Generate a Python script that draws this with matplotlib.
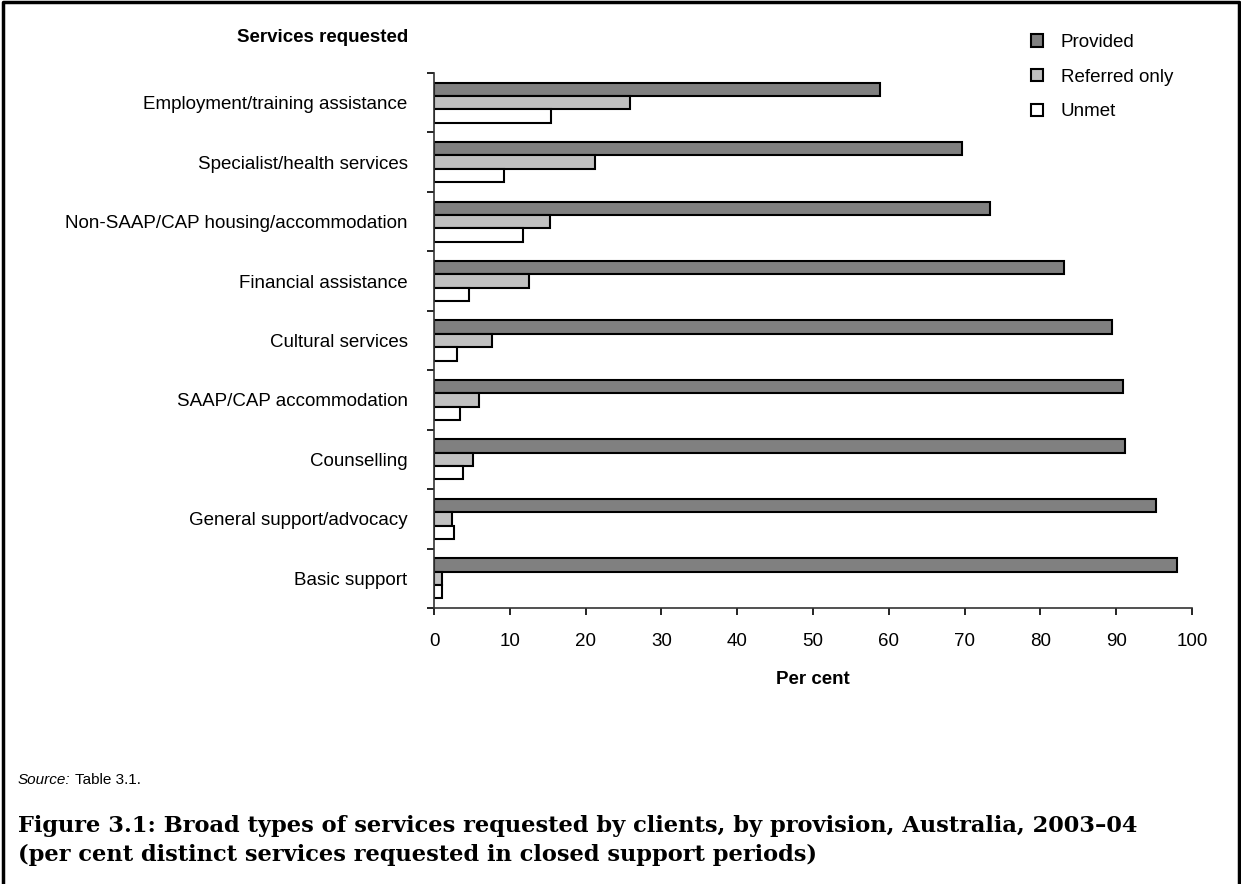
import numpy as np
import matplotlib
matplotlib.use("Agg")
import matplotlib.pyplot as plt
from matplotlib.lines import Line2D

plt.rcParams['font.family'] = ['Liberation Sans', 'DejaVu Sans']

categories = [
    'Employment/training assistance',
    'Specialist/health services',
    'Non-SAAP/CAP housing/accommodation',
    'Financial assistance',
    'Cultural services',
    'SAAP/CAP accommodation',
    'Counselling',
    'General support/advocacy',
    'Basic support',
]
provided = [58.9, 69.7, 73.3, 83.1, 89.5, 90.9, 91.2, 95.3, 98.0]
referred = [25.8, 21.3, 15.3, 12.5, 7.7, 5.9, 5.1, 2.4, 1.1]
unmet = [15.5, 9.2, 11.7, 4.6, 3.1, 3.4, 3.8, 2.6, 1.1]
x_ticks = [0, 10, 20, 30, 40, 50, 60, 70, 80, 90, 100]

fig = plt.figure(figsize=(12.41, 8.84), dpi=100)
ax = fig.add_axes([434 / 1241, 1 - 608 / 884, (1192 - 434) / 1241, (608 - 73) / 884])

y = np.arange(len(categories))
h = 0.225
ax.barh(y - h, provided, height=h, color='#808080', edgecolor='black', linewidth=1.5, label='Provided')
ax.barh(y, referred, height=h, color='#c0c0c0', edgecolor='black', linewidth=1.5, label='Referred only')
ax.barh(y + h, unmet, height=h, color='white', edgecolor='black', linewidth=1.5, label='Unmet')

ax.set_xlim(0, 100)
ax.set_ylim(len(categories) - 0.5, -0.5)
ax.set_xticks(x_ticks)
ax.set_xticklabels([str(v) for v in x_ticks], fontsize=13.5)
ax.set_yticks(y)
ax.set_yticklabels(categories, fontsize=13.5)
# category boundary ticks
ax.set_yticks(np.arange(len(categories) + 1) - 0.5, minor=True)
ax.tick_params(axis='y', which='major', length=0, pad=19)
ax.tick_params(axis='y', which='minor', length=5, width=1.2, direction='out')
ax.tick_params(axis='x', which='major', length=5, width=1.2, direction='out', pad=13)

for s in ['top', 'right']:
    ax.spines[s].set_visible(False)
for s in ['left', 'bottom']:
    ax.spines[s].set_linewidth(1.2)
    ax.spines[s].set_color('#333333')

ax.set_xlabel('Per cent', fontsize=13.5, fontweight='bold', labelpad=15)

fig.text(408 / 1241, 1 - 37 / 884, 'Services requested', fontsize=13.5, fontweight='bold',
         ha='right', va='center')

leg = ax.legend(loc='upper left', bbox_to_anchor=(1014 / 1241, 1 - 17 / 884),
                bbox_transform=fig.transFigure, frameon=False, fontsize=13.5,
                handlelength=0.65, handleheight=0.65, handletextpad=0.95, labelspacing=0.95)
for p in leg.get_patches():
    p.set_linewidth(1.5)

src = fig.text(18 / 1241, 1 - 780 / 884, 'Source:', fontsize=11, style='italic', va='center')
ax.annotate('Table 3.1.', xy=(1, 0.5), xycoords=src, xytext=(3, 0),
            textcoords='offset points', fontsize=11, va='center', ha='left',
            annotation_clip=False)

cap_font = ['DejaVu Serif']
fig.text(18 / 1241, 1 - 826 / 884,
         'Figure 3.1: Broad types of services requested by clients, by provision, Australia, 2003\u201304',
         fontsize=16.2, fontweight='bold', family=cap_font, va='center')
fig.text(18 / 1241, 1 - 855 / 884,
         '(per cent distinct services requested in closed support periods)',
         fontsize=16.2, fontweight='bold', family=cap_font, va='center')

# frame round the figure (left, top, right)
fig.add_artist(Line2D([3 / 1241, 3 / 1241, 1239 / 1241, 1239 / 1241],
                      [0, 1 - 2 / 884, 1 - 2 / 884, 0],
                      transform=fig.transFigure, color='black', linewidth=2.5))

fig.savefig('out.png', dpi=100)
plt.close(fig)
